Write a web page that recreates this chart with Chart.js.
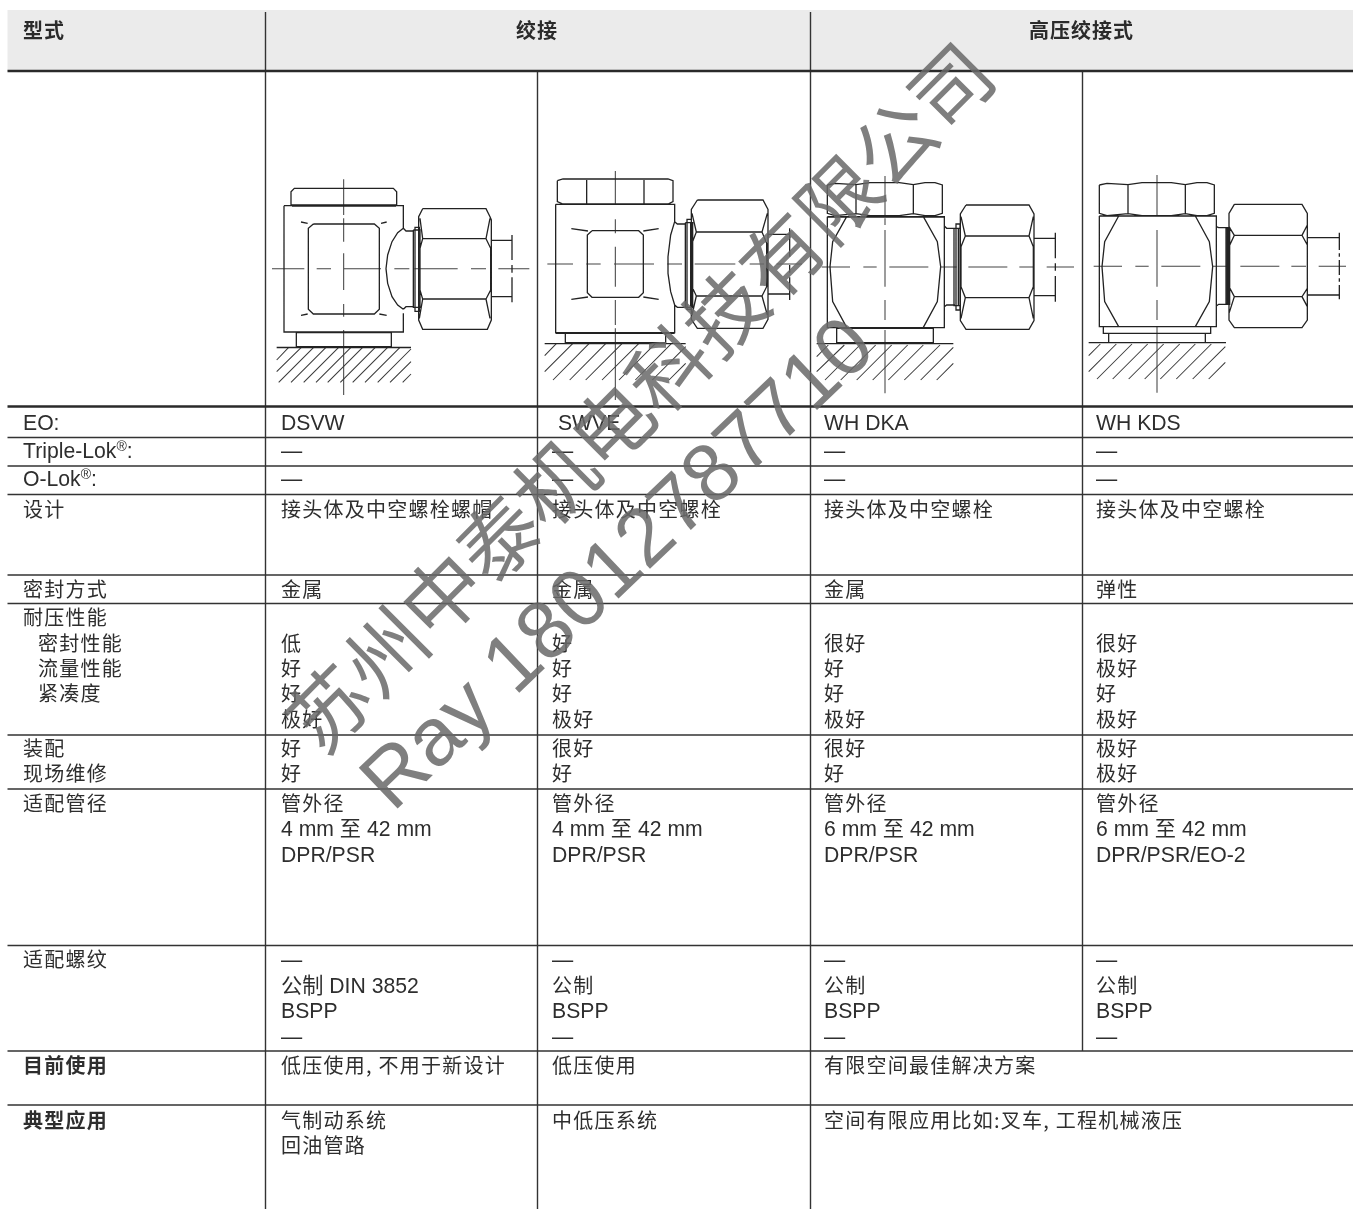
<!DOCTYPE html>
<html lang="zh">
<head>
<meta charset="utf-8">
<title>绞接 / 高压绞接式</title>
<script src="https://cdn.jsdelivr.net/npm/chart.js@4"></script>
<style>
  html, body { margin: 0; padding: 0; background: #fff; }
  canvas { display: block; }
</style>
</head>
<body>
<canvas id="tabela" width="1355" height="1209"></canvas>
<script>
// header
const headerLabels = ["型式", "绞接", "高压绞接式"];

// table text, one list per column, one inner list per row
const rowLabels = [
    ["EO:"], ["Triple-Lok®:"], ["O-Lok®:"], ["设计"], ["密封方式"],
    ["耐压性能", "  密封性能", "  流量性能", "  紧凑度"],
    ["装配", "现场维修"], ["适配管径"], ["适配螺纹"], ["目前使用"], ["典型应用"]
];
const dsvwCells = [
    ["DSVW"], ["—"], ["—"], ["接头体及中空螺栓螺帽"], ["金属"],
    ["", "低", "好", "好", "极好"], ["好", "好"],
    ["管外径", "4 mm 至 42 mm", "DPR/PSR"],
    ["—", "公制 DIN 3852", "BSPP", "—"],
    ["低压使用, 不用于新设计"], ["气制动系统", "回油管路"]
];
const swveCells = [
    [" SWVE"], ["—"], ["—"], ["接头体及中空螺栓"], ["金属"],
    ["", "好", "好", "好", "极好"], ["很好", "好"],
    ["管外径", "4 mm 至 42 mm", "DPR/PSR"],
    ["—", "公制", "BSPP", "—"],
    ["低压使用"], ["中低压系统"]
];
const whDkaCells = [
    ["WH DKA"], ["—"], ["—"], ["接头体及中空螺栓"], ["金属"],
    ["", "很好", "好", "好", "极好"], ["很好", "好"],
    ["管外径", "6 mm 至 42 mm", "DPR/PSR"],
    ["—", "公制", "BSPP", "—"],
    ["有限空间最佳解决方案"], ["空间有限应用比如:叉车, 工程机械液压"]
];
const whKdsCells = [
    ["WH KDS"], ["—"], ["—"], ["接头体及中空螺栓"], ["弹性"],
    ["", "很好", "极好", "好", "极好"], ["极好", "极好"],
    ["管外径", "6 mm 至 42 mm", "DPR/PSR/EO-2"],
    ["—", "公制", "BSPP", "—"],
    [], []
];
const boldRows = [9, 10];

const watermarkCompany = "苏州中泰机电科技有限公司";
const watermarkContact = "Ray 18012787710";

// text baselines of every row
const rowBaselines = [
    [430], [458], [486], [517], [597],
    [625, 651, 676, 701, 727], [756, 781], [811, 836, 862],
    [967, 993, 1018, 1044], [1073], [1128, 1153]
];
const columnTextX = [23, 281, 552, 824, 1096];

// table rules
const thickRules = [71, 406.5];
const thinRules = [437.5, 466, 494.5, 575, 603.5, 735, 789, 945.5, 1051, 1105];
const fullColumns = [265.5, 537.5, 810.5];

// fitting drawings, measured in thirds of a pixel from the corner of each cell
const dsvwOutline = [
    [75,165, 75,125, 85,115, 382,115, 392,125, 392,165, 75,165],
    [78,168, 390,168],
    [54,167, 412,167, 412,235],
    [412,490, 412,546, 54,546, 54,167],
    [142,222, 325,222, 340,235, 340,478, 325,492, 142,492, 127,478, 127,235, 142,222],
    [105,216, 125,220], [345,220, 362,216], [105,496, 125,492], [340,492, 362,496],
    [412,235, 395,248, 378,275, 365,315, 360,356, 365,400, 378,440, 395,465, 412,478],
    [412,235, 420,243, 442,243], [412,478, 420,470, 442,470],
    [442,240, 462,240, 462,472, 442,472, 442,240],
    [447,240, 447,472], [458,240, 458,472],
    [447,240, 447,232, 460,232, 460,243], [447,472, 447,484, 460,484, 460,470],
    [470,176, 660,176, 672,200, 676,210, 676,510, 664,538, 470,538, 458,510, 458,200, 470,176],
    [470,266, 660,266], [470,447, 660,447],
    [462,205, 470,266, 462,295, 462,420, 470,447, 460,505],
    [672,205, 660,266, 674,295, 674,420, 660,447, 672,505],
    [676,271, 738,271], [676,440, 738,440],
    [738,255, 738,330], [738,345, 738,368], [738,382, 738,457],
    [91,546, 91,590, 376,590, 376,546], [91,548, 376,548],
    [32,592, 435,592], [32,593, 435,593]
];
const dsvwHatch = [
    [68,592, 32,630], [106,592, 32,665], [143,592, 38,697], [180,592, 75,697],
    [218,592, 113,697], [255,592, 150,697], [290,592, 185,697], [328,592, 223,697],
    [365,592, 260,697], [402,592, 297,697], [435,597, 335,697], [435,635, 372,697],
    [435,672, 410,697]
];
const dsvwCenter = [
    [233,88, 233,195], [233,205, 233,275], [233,310, 233,420], [233,462, 233,500], [233,540, 233,735],
    [18,356, 115,356], [152,356, 195,356], [232,356, 345,356], [385,356, 430,356],
    [445,356, 575,356], [615,356, 660,356], [697,356, 790,356]
];

const swveOutline = [
    [58,92, 75,87, 390,87, 405,92, 405,155, 390,162, 75,162, 58,155, 58,92],
    [146,90, 146,160], [318,90, 318,160],
    [53,163, 410,163, 410,215], [410,465, 410,548, 53,548, 53,163], [53,550, 410,550],
    [162,242, 302,242, 316,255, 316,428, 302,442, 162,442, 148,428, 148,255, 162,242],
    [100,236, 150,243], [316,243, 362,236], [100,448, 150,441], [316,441, 362,448],
    [410,215, 398,255, 390,320, 390,370, 398,425, 410,465],
    [410,215, 418,222, 442,222], [410,465, 418,472, 442,472],
    [442,218, 464,218, 464,472, 442,472, 442,218],
    [447,218, 447,472], [458,218, 458,472],
    [447,218, 447,208, 460,208, 460,218], [447,472, 447,478, 460,478, 460,472],
    [478,150, 675,150, 690,178, 690,508, 675,535, 478,535, 460,508, 460,178, 478,150],
    [475,246, 672,246], [475,438, 672,438],
    [462,190, 475,246, 462,280, 462,410, 475,438, 462,495],
    [688,190, 672,246, 686,280, 686,410, 672,438, 688,495],
    [690,253, 755,253], [690,432, 755,432],
    [755,235, 755,320], [755,345, 755,368], [755,382, 755,450],
    [82,548, 82,578, 383,578, 383,548],
    [20,581, 443,581]
];
const swveHatch = [
    [55,581, 20,617], [104,581, 20,665], [153,581, 45,690], [203,581, 95,690],
    [252,581, 143,690], [302,581, 192,690], [352,581, 243,690], [400,581, 292,690],
    [443,590, 343,690], [443,640, 393,690]
];
const swveCenter = [
    [232,63, 232,165], [232,208, 232,250], [232,290, 232,410], [232,450, 232,525], [232,535, 232,750],
    [28,342, 105,342], [145,342, 188,342], [228,342, 348,342], [388,342, 432,342],
    [470,342, 592,342], [635,342, 678,342], [716,342, 792,342]
];

const whDkaOutline = [
    [52,105, 75,100, 138,104, 180,98, 268,98, 310,104, 345,98, 375,98, 397,105, 397,190, 375,197, 345,197, 310,191, 268,197, 180,197, 138,191, 75,197, 52,190, 52,105],
    [138,104, 138,191], [310,104, 310,191],
    [52,200, 403,200, 403,533, 52,533, 52,200], [52,201, 403,201],
    [110,200, 68,275, 60,350, 68,455, 110,532], [340,200, 382,275, 392,350, 382,455, 340,532],
    [403,228, 410,235, 435,235], [403,470, 410,465, 435,465],
    [432,235, 450,235, 450,467, 432,467, 432,235],
    [438,235, 438,467], [445,235, 445,467],
    [438,235, 438,222, 450,222, 450,235], [438,467, 438,480, 450,480, 450,467],
    [468,165, 657,165, 672,192, 672,512, 657,538, 468,538, 451,512, 451,192, 468,165],
    [466,258, 657,258], [466,443, 657,443],
    [453,200, 466,258, 453,290, 453,410, 466,443, 453,505],
    [670,200, 657,258, 670,290, 670,410, 657,443, 670,505],
    [672,265, 736,265], [672,437, 736,437],
    [736,248, 736,325], [736,340, 736,362], [736,378, 736,455],
    [80,533, 80,578, 370,578, 370,533], [80,535, 370,535], [80,579, 370,579],
    [20,581, 430,581]
];
const whDkaHatch = [
    [55,585, 20,620], [103,585, 20,665], [150,585, 45,690], [197,585, 92,690],
    [245,585, 140,690], [293,585, 188,690], [340,585, 235,690], [390,585, 283,690],
    [430,592, 332,690], [430,640, 380,690]
];
const whDkaCenter = [
    [225,78, 225,195], [225,205, 225,225], [225,240, 225,410], [225,450, 225,510], [225,540, 225,730],
    [35,351, 120,351], [160,351, 200,351], [238,351, 355,351], [392,351, 440,351],
    [475,351, 592,351], [628,351, 672,351], [710,351, 792,351]
];

const whKdsOutline = [
    [52,105, 75,100, 138,104, 180,98, 268,98, 310,104, 345,98, 375,98, 397,105, 397,190, 375,197, 345,197, 310,191, 268,197, 180,197, 138,191, 75,197, 52,190, 52,105],
    [138,104, 138,191], [310,104, 310,191],
    [52,198, 403,198, 403,530, 52,530, 52,198],
    [110,198, 68,275, 60,350, 68,455, 110,530], [340,198, 382,275, 392,350, 382,455, 340,530],
    [403,230, 410,233, 435,233], [403,468, 410,463, 435,463],
    [432,233, 443,233, 443,463, 432,463, 432,233], [436,233, 436,463], [439,233, 439,463],
    [457,163, 660,163, 676,190, 676,510, 660,533, 457,533, 441,510, 441,190, 457,163],
    [457,256, 660,256], [457,440, 660,440],
    [441,230, 457,256, 441,290, 441,410, 457,440, 441,490],
    [676,225, 660,256, 676,285], [676,415, 660,440, 676,470],
    [676,263, 772,263], [676,435, 772,435],
    [772,248, 772,300], [772,310, 772,320], [772,330, 772,375], [772,385, 772,395], [772,405, 772,448],
    [64,530, 64,550, 386,550, 386,530], [80,550, 80,578, 370,578, 370,550],
    [20,578, 432,578]
];
const whKdsHatch = [
    [55,582, 20,617], [103,582, 20,665], [150,582, 45,687], [197,582, 92,687],
    [245,582, 140,687], [293,582, 188,687], [340,582, 235,687], [388,582, 283,687],
    [430,590, 332,687], [430,637, 380,687]
];
const whKdsCenter = [
    [225,75, 225,195], [225,240, 225,410], [225,450, 225,510], [225,530, 225,728],
    [35,349, 120,349], [160,349, 200,349], [238,349, 355,349], [392,349, 440,349],
    [475,349, 592,349], [628,349, 672,349], [710,349, 792,349]
];

const drawingOrigins = [[266, 150], [538, 150], [810, 150], [1082, 150]];

function strokes(origin, lines) {
    const points = [];
    lines.forEach(line => {
        for (let i = 0; i < line.length; i += 2) {
            points.push({ x: origin[0] + line[i] / 3, y: origin[1] + line[i + 1] / 3 });
        }
        points.push({ x: origin[0], y: null });
    });
    return points;
}

function lineSet(data, color, width) {
    return {
        data: data,
        showLine: true,
        borderColor: color,
        borderWidth: width,
        pointRadius: 0,
        tension: 0,
        spanGaps: false
    };
}

const ruleLeft = 7.5;
const ruleRight = 1353;
const headerTop = 10;
const tableBottom = 1209;

function horizontalRules(list) {
    const points = [];
    list.forEach(y => {
        points.push({ x: ruleLeft, y: y }, { x: ruleRight, y: y }, { x: ruleLeft, y: null });
    });
    return points;
}

function verticalRules() {
    const points = [];
    fullColumns.forEach((x, i) => {
        const top = i === 1 ? thickRules[0] : headerTop + 2;
        points.push({ x: x, y: top }, { x: x, y: tableBottom }, { x: x, y: null });
    });
    points.push({ x: 1082.5, y: thickRules[0] }, { x: 1082.5, y: thinRules[8] });
    return points;
}

const outlines = [dsvwOutline, swveOutline, whDkaOutline, whKdsOutline];
const hatches = [dsvwHatch, swveHatch, whDkaHatch, whKdsHatch];
const centers = [dsvwCenter, swveCenter, whDkaCenter, whKdsCenter];

const datasets = [
    lineSet(horizontalRules(thinRules), "#333333", 1.4),
    lineSet(horizontalRules(thickRules), "#2a2a2a", 2.6),
    lineSet(verticalRules(), "#333333", 1.4)
];
drawingOrigins.forEach((origin, i) => {
    datasets.push(lineSet(strokes(origin, outlines[i]), "#222222", 1.3));
    datasets.push(lineSet(strokes(origin, hatches[i]), "#3a3a3a", 1.05));
    datasets.push(lineSet(strokes(origin, centers[i]), "#444444", 1.05));
});

const latinFont = '21.2px "Liberation Sans", "Noto Sans CJK SC"';
const cjkFont = '20px "Noto Sans CJK SC"';
const cjkBold = 'bold 20px "Noto Sans CJK SC"';

function writeLine(ctx, text, x, y, bold) {
    let indent = 0;
    if (text.startsWith("  ")) {
        text = text.trim();
        indent = 15;
    }
    const hasLatin = /[A-Za-z0-9—]/.test(text);
    ctx.font = bold ? cjkBold : (hasLatin ? latinFont : cjkFont);
    ctx.letterSpacing = hasLatin ? "0px" : "1.25px";
    if (text.includes("®")) {
        // registered mark sits small and raised
        let cursor = x;
        text.split("®").forEach((part, i) => {
            ctx.font = latinFont;
            ctx.fillText(part, cursor, y);
            cursor += ctx.measureText(part).width;
            if (i === 0) {
                ctx.font = '14px "Liberation Sans"';
                ctx.fillText("®", cursor, y - 7);
                cursor += ctx.measureText("®").width;
            }
        });
        return;
    }
    ctx.fillText(text, x + indent, y);
}

const tablePlugin = {
    id: "tablePlugin",
    beforeDatasetsDraw(chart) {
        const ctx = chart.ctx;
        const xs = chart.scales.x;
        const ys = chart.scales.y;
        ctx.save();
        ctx.fillStyle = "#ebebeb";
        ctx.fillRect(xs.getPixelForValue(ruleLeft), ys.getPixelForValue(headerTop),
            xs.getPixelForValue(ruleRight) - xs.getPixelForValue(ruleLeft),
            ys.getPixelForValue(thickRules[0]) - ys.getPixelForValue(headerTop));
        ctx.restore();
    },
    afterDatasetsDraw(chart) {
        const ctx = chart.ctx;
        const xs = chart.scales.x;
        const ys = chart.scales.y;
        ctx.save();
        ctx.textBaseline = "alphabetic";

        // header
        ctx.fillStyle = "#2b2b2b";
        ctx.font = cjkBold;
        ctx.letterSpacing = "1px";
        ctx.textAlign = "left";
        ctx.fillText(headerLabels[0], xs.getPixelForValue(columnTextX[0]), ys.getPixelForValue(38));
        ctx.textAlign = "center";
        ctx.fillText(headerLabels[1], xs.getPixelForValue(537), ys.getPixelForValue(38));
        ctx.fillText(headerLabels[2], xs.getPixelForValue(1081.5), ys.getPixelForValue(38));

        // cells
        ctx.textAlign = "left";
        ctx.fillStyle = "#2e2e2e";
        [rowLabels, dsvwCells, swveCells, whDkaCells, whKdsCells].forEach((column, c) => {
            column.forEach((lines, r) => {
                lines.forEach((text, l) => {
                    const bold = c === 0 && boldRows.includes(r);
                    writeLine(ctx, text, xs.getPixelForValue(columnTextX[c]),
                        ys.getPixelForValue(rowBaselines[r][l]), bold);
                });
            });
        });

        // watermark
        ctx.fillStyle = "rgba(105,105,105,0.85)";
        ctx.textAlign = "center";
        ctx.textBaseline = "middle";
        ctx.letterSpacing = "0px";
        ctx.save();
        ctx.translate(xs.getPixelForValue(640), ys.getPixelForValue(397));
        ctx.rotate(-Math.PI / 4);
        ctx.font = '80px "Noto Sans CJK SC"';
        ctx.fillText(watermarkCompany, 0, 0);
        ctx.restore();
        ctx.save();
        ctx.translate(xs.getPixelForValue(620), ys.getPixelForValue(566));
        ctx.rotate(-0.76);
        ctx.font = '82px "Liberation Sans"';
        ctx.fillText(watermarkContact, 0, 0);
        ctx.restore();
        ctx.restore();
    }
};

new Chart(document.getElementById("tabela"), {
    type: "scatter",
    data: { datasets: datasets },
    options: {
        responsive: false,
        animation: false,
        devicePixelRatio: 1,
        layout: { padding: 0 },
        plugins: { legend: { display: false }, tooltip: { enabled: false } },
        scales: {
            x: { type: "linear", min: 0, max: 1355, display: false },
            y: { type: "linear", min: 0, max: 1209, reverse: true, display: false }
        }
    },
    plugins: [tablePlugin]
});
</script>
</body>
</html>
